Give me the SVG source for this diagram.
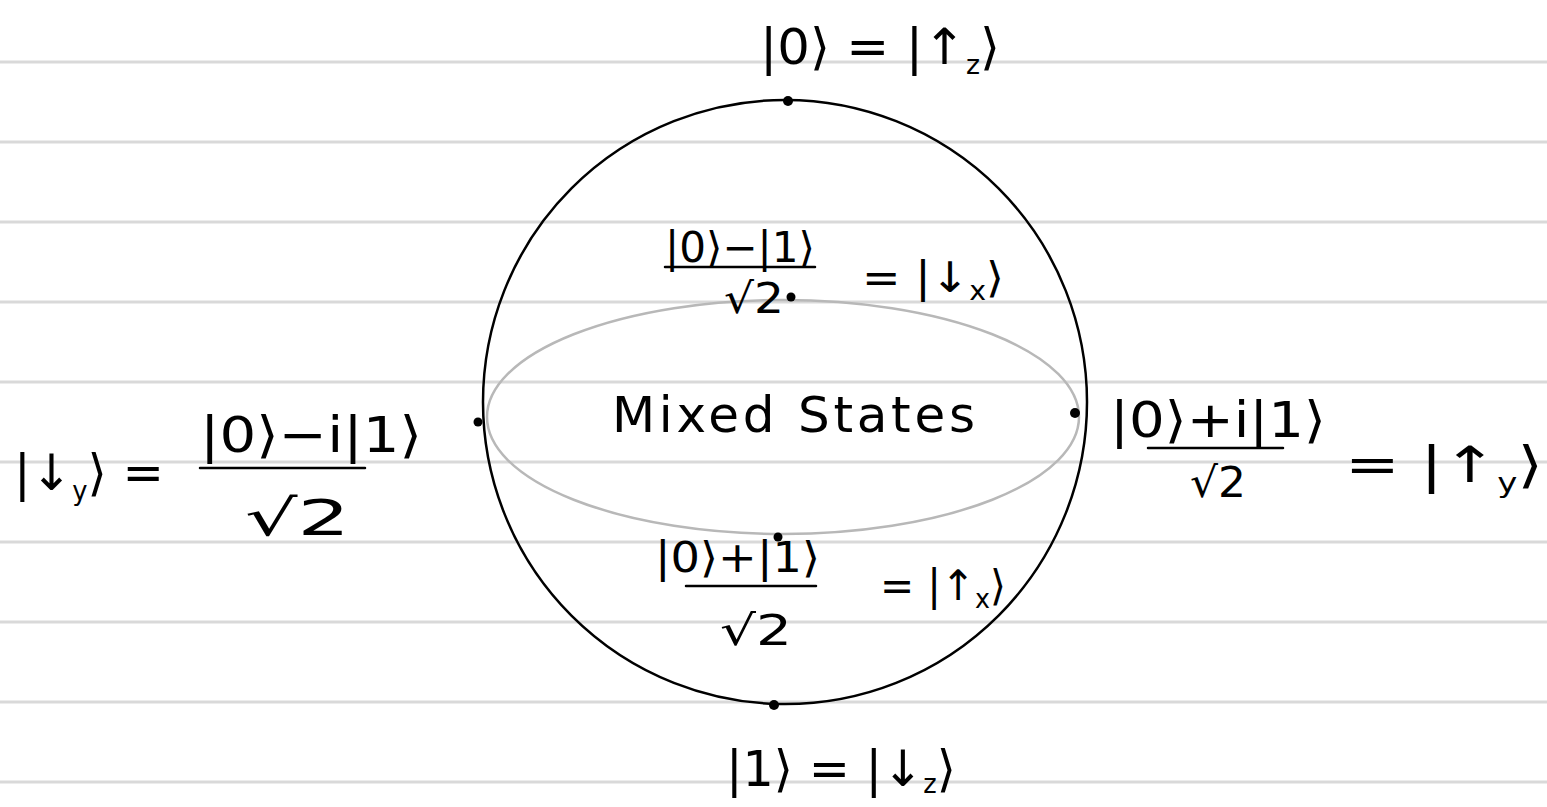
<svg xmlns="http://www.w3.org/2000/svg" width="1547" height="807" viewBox="0 0 1547 807">
<style>
.rule{stroke:#d9d9d9;stroke-width:3}
.t{font-family:"DejaVu Sans","Liberation Sans",sans-serif;fill:#000}
.big{font-size:50px}
.med{font-size:42px}
.sub{font-size:26px}
.ink{stroke:#000;stroke-width:2.5;fill:none;stroke-linecap:round}
.dot{fill:#000}
</style>
<rect width="1547" height="807" fill="#fff"/>
<g id="ruled-lines">
<line class="rule" x1="0" y1="62" x2="1547" y2="62"/>
<line class="rule" x1="0" y1="142" x2="1547" y2="142"/>
<line class="rule" x1="0" y1="222" x2="1547" y2="222"/>
<line class="rule" x1="0" y1="302" x2="1547" y2="302"/>
<line class="rule" x1="0" y1="382" x2="1547" y2="382"/>
<line class="rule" x1="0" y1="462" x2="1547" y2="462"/>
<line class="rule" x1="0" y1="542" x2="1547" y2="542"/>
<line class="rule" x1="0" y1="622" x2="1547" y2="622"/>
<line class="rule" x1="0" y1="702" x2="1547" y2="702"/>
<line class="rule" x1="0" y1="782" x2="1547" y2="782"/>
</g>
<g id="sphere">
<circle cx="785" cy="402" r="302" fill="none" stroke="#000" stroke-width="2.5"/>
<ellipse cx="783" cy="417" rx="296" ry="117" fill="none" stroke="#b8b8b8" stroke-width="2.5"/>
<text class="t big" x="612" y="432" textLength="363" lengthAdjust="spacing">Mixed States</text>
</g>
<g id="top">
<circle class="dot" cx="788" cy="101" r="5"/>
<text class="t big" x="760" y="64" textLength="240" lengthAdjust="spacingAndGlyphs">|0⟩ = |↑<tspan class="sub" dy="10">z</tspan><tspan dy="-10">⟩</tspan></text>
</g>
<g id="bottom">
<circle class="dot" cx="774" cy="705" r="5"/>
<text class="t big" x="726" y="786" textLength="230" lengthAdjust="spacingAndGlyphs">|1⟩ = |↓<tspan class="sub" dy="7">z</tspan><tspan dy="-7">⟩</tspan></text>
</g>
<g id="back">
<circle class="dot" cx="791" cy="297" r="4.5"/>
<text class="t med" x="665" y="262" textLength="150" lengthAdjust="spacingAndGlyphs">|0⟩−|1⟩</text>
<line class="ink" x1="665" y1="267" x2="815" y2="267"/>
<text class="t med" x="724" y="313" textLength="60" lengthAdjust="spacingAndGlyphs">√2</text>
<text class="t med" x="862" y="292" textLength="142" lengthAdjust="spacingAndGlyphs">= |↓<tspan class="sub" dy="8">x</tspan><tspan dy="-8">⟩</tspan></text>
</g>
<g id="front">
<circle class="dot" cx="778" cy="537" r="4.5"/>
<text class="t med" x="655" y="572" textLength="165" lengthAdjust="spacingAndGlyphs">|0⟩+|1⟩</text>
<line class="ink" x1="686" y1="586" x2="816" y2="586"/>
<text class="t med" x="720" y="645" textLength="72" lengthAdjust="spacingAndGlyphs">√2</text>
<text class="t med" x="880" y="600" textLength="126" lengthAdjust="spacingAndGlyphs">= |↑<tspan class="sub" dy="8">x</tspan><tspan dy="-8">⟩</tspan></text>
</g>
<g id="left">
<circle class="dot" cx="478" cy="422" r="4.5"/>
<text class="t big" x="200" y="452" textLength="222" lengthAdjust="spacingAndGlyphs">|0⟩−i|1⟩</text>
<line class="ink" x1="200" y1="468" x2="365" y2="468"/>
<text class="t big" x="245" y="535" textLength="105" lengthAdjust="spacingAndGlyphs">√2</text>
<text class="t big" x="14" y="490" textLength="150" lengthAdjust="spacingAndGlyphs">|↓<tspan class="sub" dy="10">y</tspan><tspan dy="-10">⟩ =</tspan></text>
</g>
<g id="right">
<circle class="dot" cx="1075" cy="413" r="5"/>
<text class="t big" x="1110" y="437" textLength="216" lengthAdjust="spacingAndGlyphs">|0⟩+i|1⟩</text>
<line class="ink" x1="1148" y1="448" x2="1283" y2="448"/>
<text class="t med" x="1190" y="497" textLength="56" lengthAdjust="spacingAndGlyphs">√2</text>
<text class="t big" x="1345" y="482" textLength="198" lengthAdjust="spacingAndGlyphs">=  |↑<tspan class="sub" dy="10">y</tspan><tspan dy="-10">⟩</tspan></text>
</g>
</svg>
